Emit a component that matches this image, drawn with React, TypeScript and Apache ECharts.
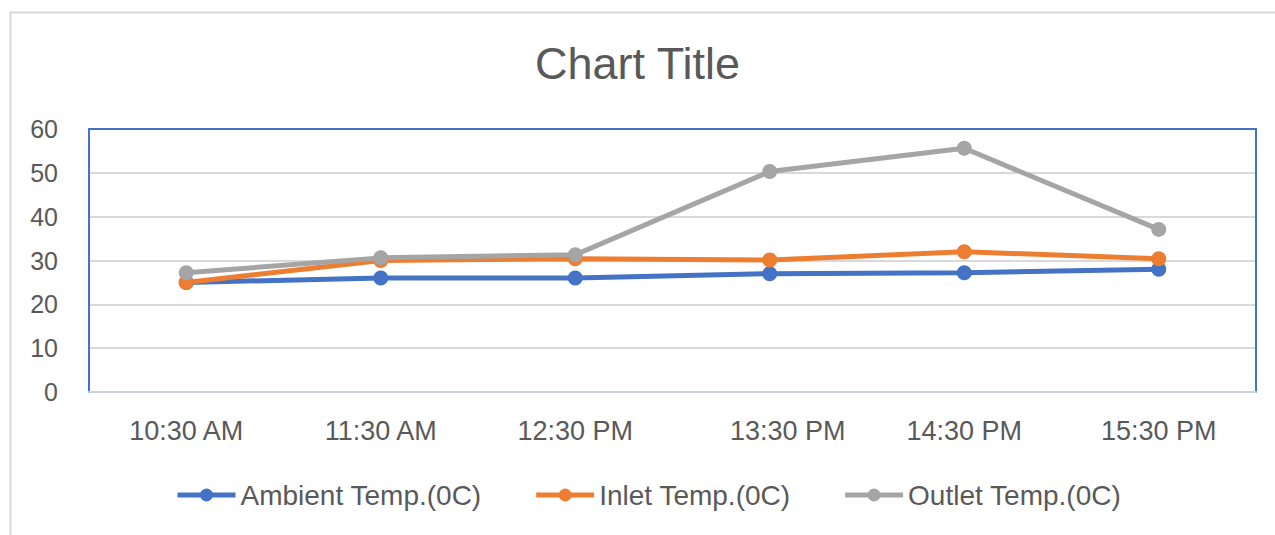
import React, { useEffect, useRef } from "react";
import * as echarts from "echarts";

const categories = ["10:30 AM", "11:30 AM", "12:30 PM", "13:30 PM", "14:30 PM", "15:30 PM"];
const ambientTemp = [25, 26, 26, 27, 27.2, 28];
const inletTemp = [25, 30, 30.4, 30.1, 32, 30.4];
const outletTemp = [27.2, 30.6, 31.3, 50.3, 55.6, 37.1];
const yTicks = { min: 0, max: 60, interval: 10 };

const seriesNames = ["Ambient Temp.(0C)", "Inlet Temp.(0C)", "Outlet Temp.(0C)"];
const seriesColors = ["#4472C4", "#ED7D31", "#A5A5A5"];

const FONT = "'Liberation Sans', Arial, sans-serif";
const TEXT = "#595959";

export default function App() {
  const ref = useRef<HTMLDivElement>(null);

  useEffect(() => {
    document.body.style.margin = "0";
    if (!ref.current) return;
    const chart = echarts.init(ref.current, null, { renderer: "svg" });

    const makeSeries = (name: string, data: number[], color: string) => ({
      name,
      type: "line",
      data,
      symbol: "circle",
      symbolSize: 15,
      lineStyle: { width: 5, color },
      itemStyle: { color },
      z: 3,
    });

    chart.setOption({
      animation: false,
      backgroundColor: "#ffffff",
      textStyle: { fontFamily: FONT, color: TEXT },
      graphic: [
        {
          type: "rect",
          shape: { x: 10.5, y: 12.5, width: 1300, height: 600 },
          style: { fill: "none", stroke: "#D9D9D9", lineWidth: 2 },
          silent: true,
          z: -1,
        },
      ],
      title: {
        text: "Chart Title",
        left: "center",
        top: 36,
        textStyle: { fontFamily: FONT, fontSize: 45, fontWeight: "normal", color: TEXT },
      },
      grid: {
        left: 89,
        right: 19,
        top: 129,
        bottom: 143,
        show: true,
        borderColor: "#4472C4",
        borderWidth: 2,
        backgroundColor: "transparent",
        z: 2,
      },
      legend: {
        bottom: 26,
        left: 175,
        padding: 0,
        itemWidth: 58,
        itemHeight: 16,
        itemGap: 52,
        textStyle: { fontFamily: FONT, fontSize: 28, color: TEXT },
        lineStyle: { width: 5 },
        data: seriesNames,
      },
      xAxis: {
        type: "category",
        data: categories.map((c) =>
          c === "13:30 PM" ? { value: c, textStyle: { padding: [0, 0, 0, 36] } } : c
        ),
        boundaryGap: true,
        axisLine: { show: true, lineStyle: { color: "#C9D3E6", width: 2 } },
        axisTick: { show: false },
        axisLabel: { fontFamily: FONT, fontSize: 27, color: TEXT, margin: 25 },
        z: 3,
      },
      yAxis: {
        type: "value",
        min: yTicks.min,
        max: yTicks.max,
        interval: yTicks.interval,
        axisLine: { show: false },
        axisTick: { show: false },
        axisLabel: { fontFamily: FONT, fontSize: 25, color: TEXT, margin: 31 },
        splitLine: { showMaxLine: false, showMinLine: false, lineStyle: { color: "#D9D9D9", width: 2 } },
      },
      series: [
        makeSeries(seriesNames[0], ambientTemp, seriesColors[0]),
        makeSeries(seriesNames[1], inletTemp, seriesColors[1]),
        makeSeries(seriesNames[2], outletTemp, seriesColors[2]),
      ],
    });

    return () => chart.dispose();
  }, []);

  return <div ref={ref} style={{ width: 1275, height: 535 }} />;
}
